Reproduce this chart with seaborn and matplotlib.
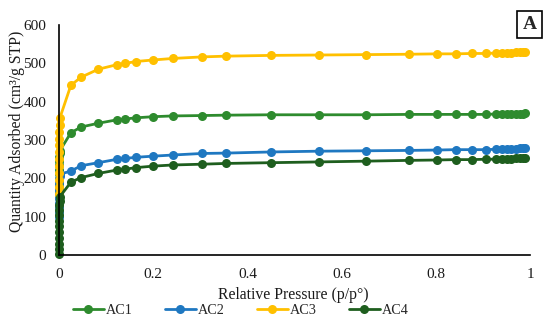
import numpy as np
import pandas as pd
import matplotlib
matplotlib.use("Agg")
import matplotlib.pyplot as plt
import seaborn as sns
from matplotlib.lines import Line2D

# Relative pressure points (p/p°)
pressure = [1e-6, 3e-6, 1e-5, 3e-5, 6e-5, 1e-4, 2e-4, 4e-4, 6e-4, 1e-3, 1.5e-3, 2e-3,
            0.0255, 0.047, 0.084, 0.124, 0.141, 0.163, 0.2, 0.242, 0.303, 0.354,
            0.451, 0.552, 0.652, 0.743, 0.802, 0.842, 0.877, 0.906,
            0.927, 0.94, 0.95, 0.96, 0.97, 0.978, 0.985, 0.99]

ac1 = [150, 162, 173, 186, 198, 211, 223, 235, 246, 257, 266, 272,
       319, 334, 344, 353, 355, 358, 361, 363, 364, 365,
       366, 366, 366, 367, 367, 367, 367, 367,
       368, 368, 368, 368, 369, 369, 369, 370]
ac2 = [100, 113, 125, 137, 149, 160, 171, 181, 191, 199, 206, 211,
       219, 233, 241, 250, 252, 255, 258, 261, 265, 266,
       269, 271, 272, 273, 274, 275, 275, 275,
       276, 276, 277, 277, 277, 278, 278, 278]
ac3 = [160, 178, 196, 214, 232, 250, 268, 286, 304, 322, 340, 357,
       443, 464, 485, 497, 500, 505, 509, 513, 517, 519,
       521, 522, 523, 524, 525, 525, 526, 526,
       527, 527, 528, 528, 529, 529, 530, 530]
ac4 = [3, 16, 30, 45, 60, 75, 90, 104, 117, 130, 142, 152,
       190, 202, 213, 222, 224, 228, 232, 235, 237, 239,
       241, 243, 245, 247, 248, 249, 249, 250,
       250, 251, 251, 251, 252, 252, 252, 252]

series_names = ["AC1", "AC2", "AC3", "AC4"]
colors = ["#2E8B2E", "#1F78C1", "#FFC000", "#1E5E1E"]
x_ticks = [0, 0.2, 0.4, 0.6, 0.8, 1]
x_tick_labels = ["0", "0.2", "0.4", "0.6", "0.8", "1"]
y_ticks = [0, 100, 200, 300, 400, 500, 600]

rows = []
for name, vals in zip(series_names, [ac1, ac2, ac3, ac4]):
    for p, v in zip(pressure, vals):
        rows.append({"Relative Pressure": p, "Quantity": v, "Sample": name})
df = pd.DataFrame(rows)

sns.set_theme(style="white")
plt.rcParams["font.family"] = ["Liberation Serif", "DejaVu Serif"]

fig = plt.figure(figsize=(5.5, 3.22), dpi=100)
ax = fig.add_axes([0.107, 0.208, 0.857, 0.714])

for name, col in zip(series_names, colors):
    sub = df[df["Sample"] == name]
    sns.lineplot(data=sub, x="Relative Pressure", y="Quantity", ax=ax,
                 color=col, marker="o", markersize=6.5, markeredgewidth=0,
                 linewidth=2.0, sort=False, estimator=None, legend=False,
                 clip_on=False)

ax.set_xlim(0, 1)
ax.set_ylim(0, 600)
ax.set_xticks(x_ticks)
ax.set_xticklabels(x_tick_labels)
ax.set_yticks(y_ticks)
ax.tick_params(axis="both", direction="in", length=3, width=1, color="black",
               labelsize=11, labelcolor="#1a1a1a")
ax.tick_params(axis="x", pad=9)
ax.tick_params(axis="y", pad=9)
for s in ["top", "right"]:
    ax.spines[s].set_visible(False)
for s in ["left", "bottom"]:
    ax.spines[s].set_color("black")
    ax.spines[s].set_linewidth(1.2)

ax.set_xlabel("Relative Pressure (p/p°)", fontsize=11.3, color="#1a1a1a")
ax.xaxis.set_label_coords(0.498, -0.137)
ax.set_ylabel("Quantity Adsorbed (cm³/g STP)", fontsize=11.3, color="#1a1a1a")
ax.yaxis.set_label_coords(-0.072, 0.537)

handles = [Line2D([0], [0], color=c, marker="o", markersize=6.5, markeredgewidth=0,
                  linewidth=2.0) for c in colors]
fig.legend(handles, series_names, loc="center", bbox_to_anchor=(0.438, 0.037),
           ncol=4, frameon=False, fontsize=10.2, handlelength=2.15,
           handletextpad=0.15, columnspacing=2.3, borderpad=0)

fig.text(0.9636, 0.924, "A", fontsize=14, fontweight="bold", ha="center", va="center",
         bbox=dict(boxstyle="square,pad=0.28", facecolor="white", edgecolor="black", linewidth=1.2))

fig.savefig("out.png", dpi=100, facecolor="white")
